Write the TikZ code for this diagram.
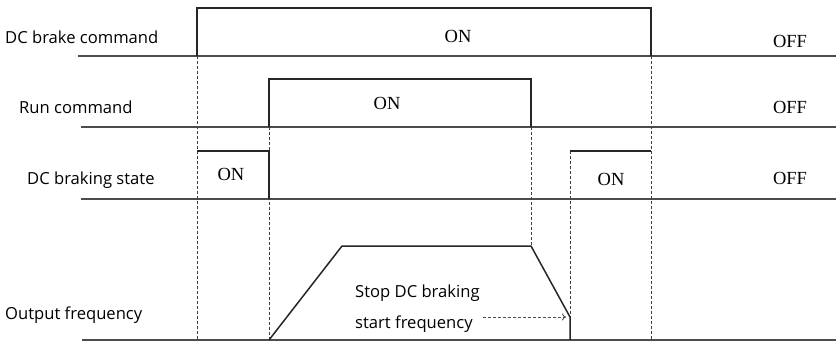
\documentclass[tikz,border=0pt]{standalone}
\usepackage{fontspec}
\setmainfont{Liberation Serif}
\newfontfamily\labelfont{Open Sans}
\usetikzlibrary{arrows.meta}

\begin{document}
\begin{tikzpicture}[x=1pt, y=-1pt,
  sig/.style={line width=1.5pt, black!85, line join=miter},
  base/.style={line width=1.4pt, black!70},
  guide/.style={line width=1pt, black!75, dash pattern=on 3pt off 2pt},
  lbl/.style={font=\labelfont\fontsize{16.6}{19}\selectfont, anchor=base west, inner sep=0pt},
  st/.style={font=\fontsize{18.5}{20}\selectfont, anchor=base, inner sep=0pt},
  hint/.style={-{To[length=4pt, width=7pt]}, line width=0.9pt, black!70, dash pattern=on 3pt off 2pt}
]
\useasboundingbox (0,0) rectangle (836,341);

% row labels
\node[lbl] (brakecmd) at (5,43)   {DC brake command};
\node[lbl] (runcmd)   at (19,113) {Run command};
\node[lbl] (brakest)  at (27,184) {DC braking state};
\node[lbl] (outfreq)  at (5,319)  {Output frequency};

% base lines
\draw[base] (78,56)  -- (836,56);
\draw[base] (81,127) -- (836,127);
\draw[base] (81,199) -- (836,199);
\draw[base] (82,340) -- (836,340);

% guide lines
\draw[guide] (197,56)  -- (197,340);
\draw[guide] (269,127) -- (269,340);
\draw[guide] (531,127) -- (531,246);
\draw[guide] (570,151) -- (570,317);
\draw[guide] (651,56)  -- (651,340);

% signals
\draw[sig] (197,56) -- (197,8) -- (651,8) -- (651,56);
\draw[sig] (269,127) -- (269,79) -- (531,79) -- (531,127);
\draw[sig] (197,151) -- (269,151) -- (269,199);
\draw[sig] (570,151) -- (651,151);
\draw[sig] (269,340) -- (342,246) -- (531,246) -- (570,317) -- (570,340);

% states
\node[st] (on1)  at (458,42)  {ON};
\node[st] (on2)  at (387,109) {ON};
\node[st] (on3)  at (231,180) {ON};
\node[st] (on4)  at (611,185) {ON};
\node[st] (off1) at (790,47)  {OFF};
\node[st] (off2) at (790,113) {OFF};
\node[st] (off3) at (790,184) {OFF};

% stop frequency note
\node[lbl] (stopdc)    at (355,297) {Stop DC braking};
\node[lbl] (startfreq) at (355,328) {start frequency};
\coordinate (stoppt) at (566,317);
\draw[hint] (startfreq.east |- stoppt) ++(10,0) -- (stoppt);
\end{tikzpicture}
\end{document}
